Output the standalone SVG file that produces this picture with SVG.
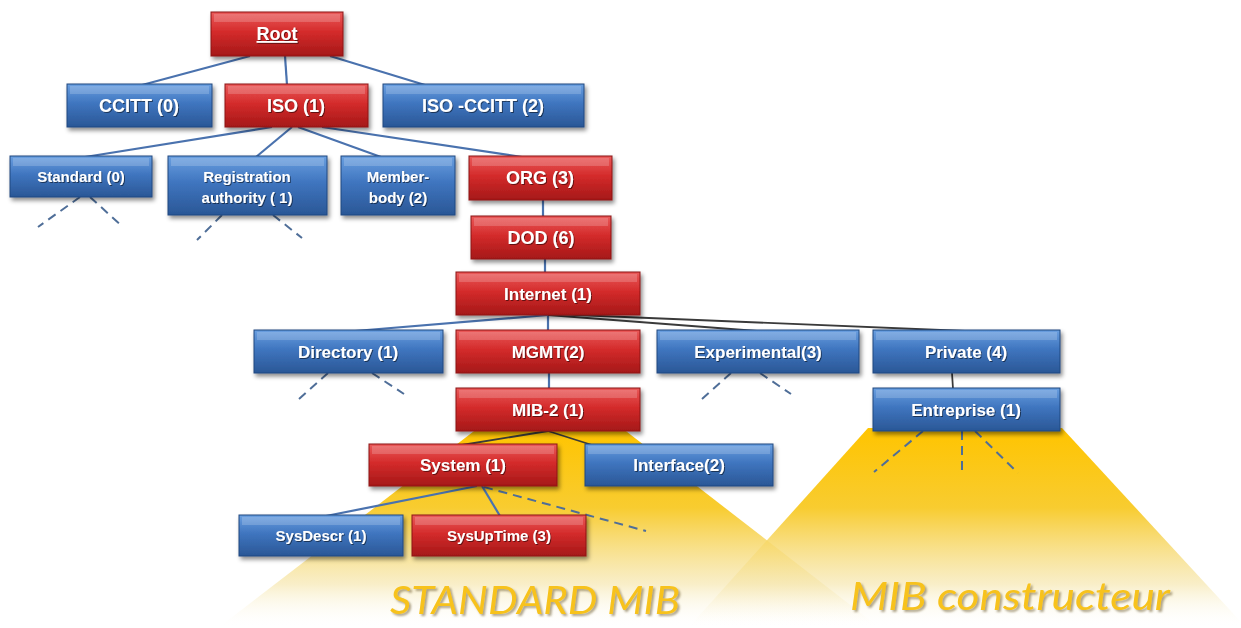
<svg xmlns="http://www.w3.org/2000/svg" width="1241" height="628" viewBox="0 0 1241 628">
<defs>
<linearGradient id="gr" x1="0" y1="0" x2="0" y2="1">
<stop offset="0" stop-color="#EA5A5A"/><stop offset="0.45" stop-color="#D42B2B"/><stop offset="1" stop-color="#A51818"/>
</linearGradient>
<linearGradient id="gb" x1="0" y1="0" x2="0" y2="1">
<stop offset="0" stop-color="#6A9FE0"/><stop offset="0.45" stop-color="#3F75BF"/><stop offset="1" stop-color="#2A5796"/>
</linearGradient>
<linearGradient id="gy" x1="0" y1="0" x2="0" y2="1">
<stop offset="0" stop-color="#FFC400"/><stop offset="0.4" stop-color="#F8CC30"/><stop offset="0.78" stop-color="#F6E7B0" stop-opacity="0.7"/><stop offset="1" stop-color="#FFFFFF" stop-opacity="0"/>
</linearGradient>
<filter id="sh" x="-10%" y="-20%" width="125%" height="160%">
<feDropShadow dx="2" dy="3" stdDeviation="2" flood-color="#000" flood-opacity="0.45"/>
</filter>
<filter id="ts" x="-5%" y="-20%" width="115%" height="150%">
<feDropShadow dx="1" dy="1" stdDeviation="0.6" flood-color="#000" flood-opacity="0.5"/>
</filter>
<filter id="ys" x="-5%" y="-20%" width="115%" height="150%">
<feDropShadow dx="2" dy="2" stdDeviation="1" flood-color="#7a6a40" flood-opacity="0.6"/>
</filter>
<style>
.r rect.b{fill:url(#gr);stroke:#8C1414;stroke-width:1;filter:url(#sh)}
.u rect.b{fill:url(#gb);stroke:#1F4880;stroke-width:1;filter:url(#sh)}
rect.h{fill:#fff;opacity:0.18}
text{font-family:"Liberation Sans",Arial,sans-serif;font-weight:bold;fill:#fff;text-anchor:middle;filter:url(#ts)}
.L{font-size:18px}
.S{font-size:15px}
.c line{stroke:#4A72AE;stroke-width:2.2}
.c line.k{stroke:#3A3A3A;stroke-width:1.8}
.c line.d{stroke:#4F6E98;stroke-width:2;stroke-dasharray:9 6}
.big{font-family:Lato,"Open Sans",sans-serif;font-style:italic;font-weight:normal;fill:#F7C21A;font-size:38px;text-anchor:start;filter:url(#ys)}
</style>
</defs>
<rect width="1241" height="628" fill="#fff"/>
<g id="shading">
<polygon points="478,428 622,428 880,628 218,628" fill="url(#gy)"/>
<polygon points="868,428 1062,428 1241,622 1241,628 688,628" fill="url(#gy)"/>
</g>
<g id="connectors" class="c">
<line x1="250" y1="56" x2="142" y2="85"/>
<line x1="285" y1="56" x2="287" y2="85"/>
<line x1="330" y1="56" x2="425" y2="85"/>
<line x1="272" y1="127" x2="85" y2="157"/>
<line x1="292" y1="127" x2="256" y2="157"/>
<line x1="298" y1="127" x2="381" y2="157"/>
<line x1="322" y1="127" x2="522" y2="157"/>
<line x1="543" y1="200" x2="543" y2="217"/>
<line x1="545" y1="259" x2="545" y2="273"/>
<line x1="548" y1="315" x2="355" y2="331"/>
<line x1="548" y1="315" x2="548" y2="331"/>
<line class="k" x1="548" y1="315" x2="757" y2="331"/>
<line class="k" x1="552" y1="314" x2="965" y2="331"/>
<line x1="549" y1="373" x2="549" y2="389"/>
<line class="k" x1="952" y1="373" x2="953" y2="389"/>
<line class="k" x1="548" y1="431" x2="462" y2="445"/>
<line class="k" x1="548" y1="431" x2="592" y2="445"/>
<line x1="477" y1="486" x2="326" y2="516"/>
<line x1="482" y1="486" x2="500" y2="516"/>
<line class="d" x1="484" y1="487" x2="646" y2="531"/>
<line class="d" x1="80" y1="197" x2="38" y2="227"/>
<line class="d" x1="90" y1="197" x2="123" y2="227"/>
<line class="d" x1="222" y1="215" x2="197" y2="240"/>
<line class="d" x1="273" y1="215" x2="302" y2="238"/>
<line class="d" x1="328" y1="373" x2="299" y2="399"/>
<line class="d" x1="372" y1="373" x2="404" y2="394"/>
<line class="d" x1="731" y1="373" x2="702" y2="399"/>
<line class="d" x1="760" y1="373" x2="791" y2="394"/>
<line class="d" x1="923" y1="431" x2="874" y2="472"/>
<line class="d" x1="962" y1="431" x2="962" y2="472"/>
<line class="d" x1="975" y1="431" x2="1018" y2="473"/>
</g>
<g id="n-root" class="r"><rect class="b" x="211" y="12" width="132" height="44"/><rect class="h" x="214" y="14" width="126" height="8"/><text class="L" x="277" y="40" text-decoration="underline">Root</text></g>
<g id="n-ccitt" class="u"><rect class="b" x="67" y="84" width="145" height="43"/><rect class="h" x="70" y="86" width="139" height="8"/><text class="L" x="139" y="112">CCITT (0)</text></g>
<g id="n-iso" class="r"><rect class="b" x="225" y="84" width="143" height="43"/><rect class="h" x="228" y="86" width="137" height="8"/><text class="L" x="296" y="112">ISO  (1)</text></g>
<g id="n-isoccitt" class="u"><rect class="b" x="383" y="84" width="201" height="43"/><rect class="h" x="386" y="86" width="195" height="8"/><text class="L" x="483" y="112">ISO -CCITT (2)</text></g>
<g id="n-standard" class="u"><rect class="b" x="10" y="156" width="142" height="41"/><rect class="h" x="13" y="158" width="136" height="8"/><text class="S" x="81" y="182">Standard (0)</text></g>
<g id="n-registration" class="u"><rect class="b" x="168" y="156" width="159" height="59"/><rect class="h" x="171" y="158" width="153" height="8"/><text class="S" x="247" y="182">Registration</text><text class="S" x="247" y="203">authority ( 1)</text></g>
<g id="n-member" class="u"><rect class="b" x="341" y="156" width="114" height="59"/><rect class="h" x="344" y="158" width="108" height="8"/><text class="S" x="398" y="182">Member-</text><text class="S" x="398" y="203">body  (2)</text></g>
<g id="n-org" class="r"><rect class="b" x="469" y="156" width="143" height="44"/><rect class="h" x="472" y="158" width="137" height="8"/><text class="L" x="540" y="184">ORG  (3)</text></g>
<g id="n-dod" class="r"><rect class="b" x="471" y="216" width="140" height="43"/><rect class="h" x="474" y="218" width="134" height="8"/><text class="L" x="541" y="244">DOD (6)</text></g>
<g id="n-internet" class="r"><rect class="b" x="456" y="272" width="184" height="43"/><rect class="h" x="459" y="274" width="178" height="8"/><text class="L" x="548" y="300" style="font-size:17px">Internet (1)</text></g>
<g id="n-directory" class="u"><rect class="b" x="254" y="330" width="189" height="43"/><rect class="h" x="257" y="332" width="183" height="8"/><text class="L" x="348" y="358" style="font-size:17px">Directory (1)</text></g>
<g id="n-mgmt" class="r"><rect class="b" x="456" y="330" width="184" height="43"/><rect class="h" x="459" y="332" width="178" height="8"/><text class="L" x="548" y="358" style="font-size:17px">MGMT(2)</text></g>
<g id="n-experimental" class="u"><rect class="b" x="657" y="330" width="202" height="43"/><rect class="h" x="660" y="332" width="196" height="8"/><text class="L" x="758" y="358" style="font-size:17px">Experimental(3)</text></g>
<g id="n-private" class="u"><rect class="b" x="873" y="330" width="187" height="43"/><rect class="h" x="876" y="332" width="181" height="8"/><text class="L" x="966" y="358" style="font-size:17px">Private  (4)</text></g>
<g id="n-mib2" class="r"><rect class="b" x="456" y="388" width="184" height="43"/><rect class="h" x="459" y="390" width="178" height="8"/><text class="L" x="548" y="416" style="font-size:17px">MIB-2 (1)</text></g>
<g id="n-entreprise" class="u"><rect class="b" x="873" y="388" width="187" height="43"/><rect class="h" x="876" y="390" width="181" height="8"/><text class="L" x="966" y="416" style="font-size:17px">Entreprise (1)</text></g>
<g id="n-system" class="r"><rect class="b" x="369" y="444" width="188" height="42"/><rect class="h" x="372" y="446" width="182" height="8"/><text class="L" x="463" y="471" style="font-size:17px">System (1)</text></g>
<g id="n-interface" class="u"><rect class="b" x="585" y="444" width="188" height="42"/><rect class="h" x="588" y="446" width="182" height="8"/><text class="L" x="679" y="471" style="font-size:17px">Interface(2)</text></g>
<g id="n-sysdescr" class="u"><rect class="b" x="239" y="515" width="164" height="41"/><rect class="h" x="242" y="517" width="158" height="8"/><text class="S" x="321" y="541">SysDescr (1)</text></g>
<g id="n-sysuptime" class="r"><rect class="b" x="412" y="515" width="174" height="41"/><rect class="h" x="415" y="517" width="168" height="8"/><text class="S" x="499" y="541">SysUpTime (3)</text></g>
<text class="big" x="390" y="614" textLength="290" lengthAdjust="spacingAndGlyphs">STANDARD MIB</text>
<text class="big" x="850" y="610" textLength="320" lengthAdjust="spacingAndGlyphs">MIB constructeur</text>
</svg>
